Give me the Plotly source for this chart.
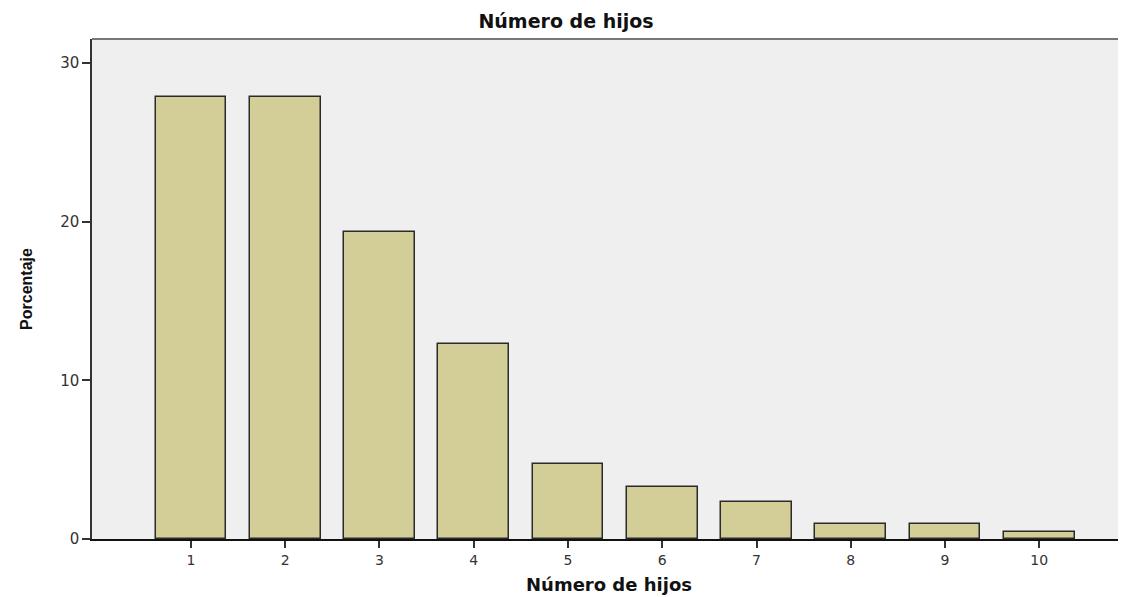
import plotly.graph_objects as go

categories = [1, 2, 3, 4, 5, 6, 7, 8, 9, 10]
percent = [27.83, 27.83, 19.34, 12.26, 4.72, 3.30, 2.36, 0.94, 0.94, 0.47]
y_ticks = [0, 10, 20, 30]

W, H = 1118, 589

fig = go.Figure()
fig.add_trace(go.Bar(
    x=categories, y=percent, width=0.75,
    marker=dict(color="#D3CE98", line=dict(color="#2a2a2a", width=1.5)),
    hoverinfo="x+y",
))

fig.update_layout(
    width=W, height=H,
    margin=dict(l=84, r=0, t=31, b=58),
    paper_bgcolor="white", plot_bgcolor="#EFEFEF",
    showlegend=False,
    title=dict(text="<b>Número de hijos</b>", x=558 / W, xanchor="center",
               y=1 - 13 / H, yanchor="middle",
               font=dict(family="DejaVu Sans", size=19, color="#111")),
    font=dict(family="DejaVu Sans", color="#222"),
    bargap=0,
)
fig.update_xaxes(
    range=[-0.05, 10.92], tickvals=categories, ticktext=[str(c) for c in categories],
    showgrid=False, zeroline=False, showline=True, linecolor="#111", linewidth=1.5,
    ticks="outside", ticklen=7, tickwidth=1.5, tickcolor="#333",
    tickfont=dict(size=14, family="DejaVu Sans", color="#333"),
    title=dict(text="<b>Número de hijos</b>", standoff=12,
               font=dict(size=18, family="DejaVu Sans", color="#111")),
)
fig.update_yaxes(
    range=[0, 31.5], tickvals=y_ticks,
    showgrid=False, zeroline=False, showline=True, linecolor="#333", linewidth=1.5,
    ticks="outside", ticklen=8, tickwidth=1.5, tickcolor="#333",
    tickfont=dict(size=15, family="DejaVu Sans", color="#333"),
    title=dict(text="<b>Porcentaje</b>", standoff=24,
               font=dict(size=16, family="Liberation Sans", color="#111")),
)
fig.add_shape(type="line", xref="paper", yref="paper", x0=0, x1=1, y0=1, y1=1,
              line=dict(color="#777", width=2))

fig.write_html("out.html")
